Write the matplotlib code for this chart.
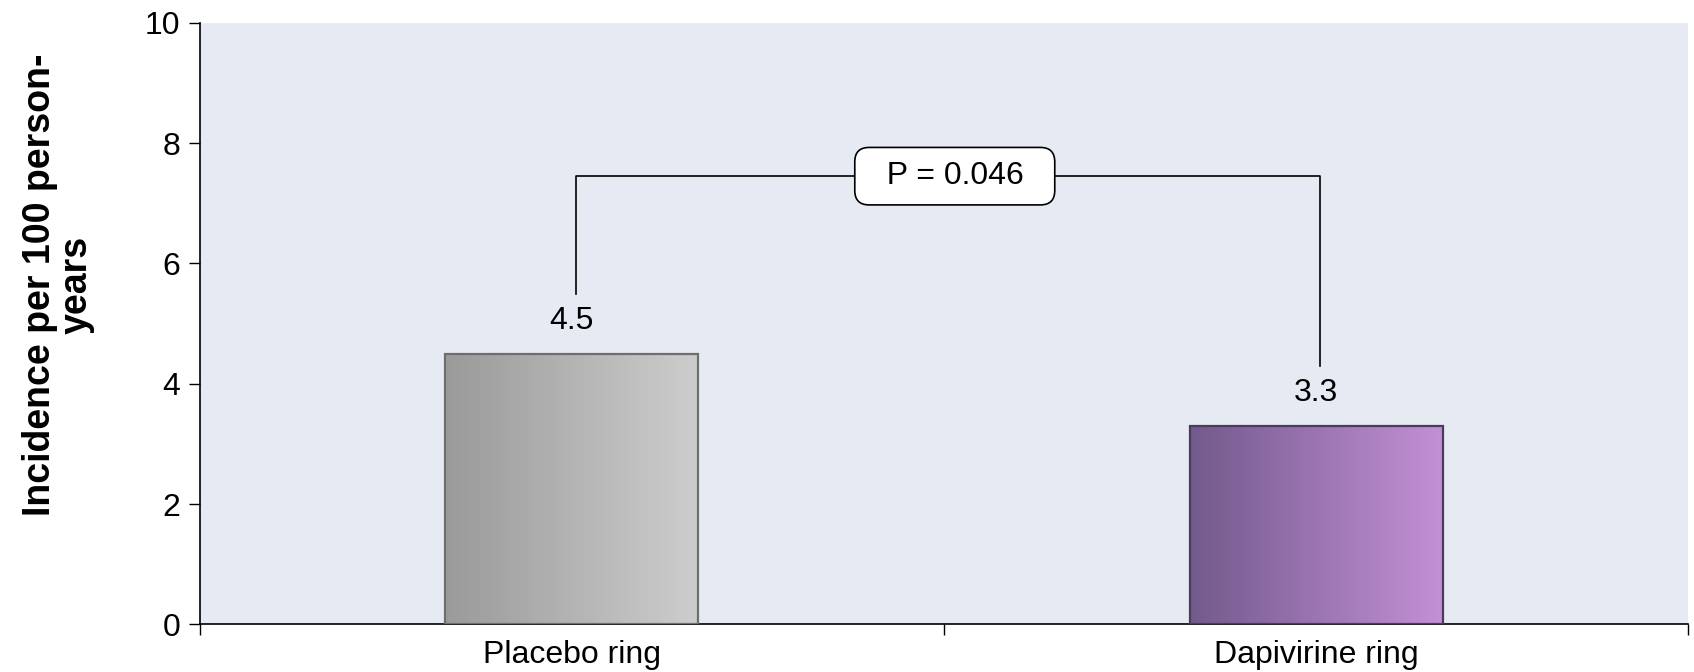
import numpy as np
import matplotlib
matplotlib.use("Agg")
import matplotlib.pyplot as plt
from matplotlib.colors import LinearSegmentedColormap

plt.rcParams["font.family"] = ["Liberation Sans", "DejaVu Sans"]

# data
categories = ["Placebo ring", "Dapivirine ring"]
incidence = [4.5, 3.3]
value_labels = ["4.5", "3.3"]
p_text = "P = 0.046"
bracket_y = [5.5, 7.45, 4.3]   # left foot, top, right foot
ylabel = "Incidence per 100 person-\nyears"

grad_colors = [("#9a9a9a", "#cdcdcd"), ("#735a8c", "#c390d6")]
edge_colors = ["#6e6e6e", "#4e3a5e"]

FS = 23

fig = plt.figure(figsize=(16.94, 6.72), dpi=100)
ax = fig.add_axes([0.118, 0.0707, 0.8785, 0.8955])
ax.set_facecolor("#e6eaf2")

x = np.arange(len(categories))
bars = ax.bar(x, incidence, width=0.34, color="none",
              edgecolor="none", zorder=2)

# horizontal gradient fill, clipped to each bar
grad = np.linspace(0, 1, 256).reshape(1, -1)
for rect, (c0, c1), ec in zip(bars, grad_colors, edge_colors):
    x0, y0 = rect.get_xy()
    w, h = rect.get_width(), rect.get_height()
    cmap = LinearSegmentedColormap.from_list("g", [c0, c1])
    im = ax.imshow(grad, extent=[x0, x0 + w, y0, y0 + h], aspect="auto",
                   cmap=cmap, zorder=2)
    im.set_clip_path(rect)
    ax.add_patch(plt.Rectangle((x0, y0), w, h, fill=False,
                               edgecolor=ec, linewidth=1.6, zorder=3))

for xi, v, lab in zip(x, incidence, value_labels):
    ax.text(xi, v + 0.3, lab, ha="center", va="bottom", fontsize=FS)

# significance bracket
xl, xr = x[0] + 0.005, x[1] + 0.005
ax.plot([xl, xl, xr, xr], [bracket_y[0], bracket_y[1], bracket_y[1], bracket_y[2]],
        color="black", linewidth=1.2, zorder=4)
ax.text(0.5145, bracket_y[1], "  " + p_text + "  ", ha="center", va="center",
        fontsize=FS, zorder=5,
        bbox=dict(boxstyle="round,pad=0.43,rounding_size=0.45",
                  facecolor="white", edgecolor="black", linewidth=1.2))

ax.set_xlim(-0.5, 1.5)
ax.set_ylim(0, 10)
ax.set_yticks([0, 2, 4, 6, 8, 10])
ax.set_xticks([-0.5, 0.5, 1.5])
ax.set_xticklabels([])
ax.set_xticks(x, minor=True)
ax.set_xticklabels(categories, minor=True, fontsize=FS)
ax.tick_params(axis="x", which="minor", length=0, pad=11)
ax.tick_params(axis="x", which="major", length=8, width=1)
ax.tick_params(axis="y", length=8, width=1, labelsize=FS, pad=6)

for s in ["top", "right"]:
    ax.spines[s].set_visible(False)
ax.spines["left"].set_linewidth(1.2)
ax.spines["bottom"].set_linewidth(1.2)

ax.set_ylabel(ylabel, fontsize=27, fontweight="bold", linespacing=1.05)
ax.yaxis.set_label_coords(-0.0705, 0.564)

fig.savefig("out.png", dpi=100)
